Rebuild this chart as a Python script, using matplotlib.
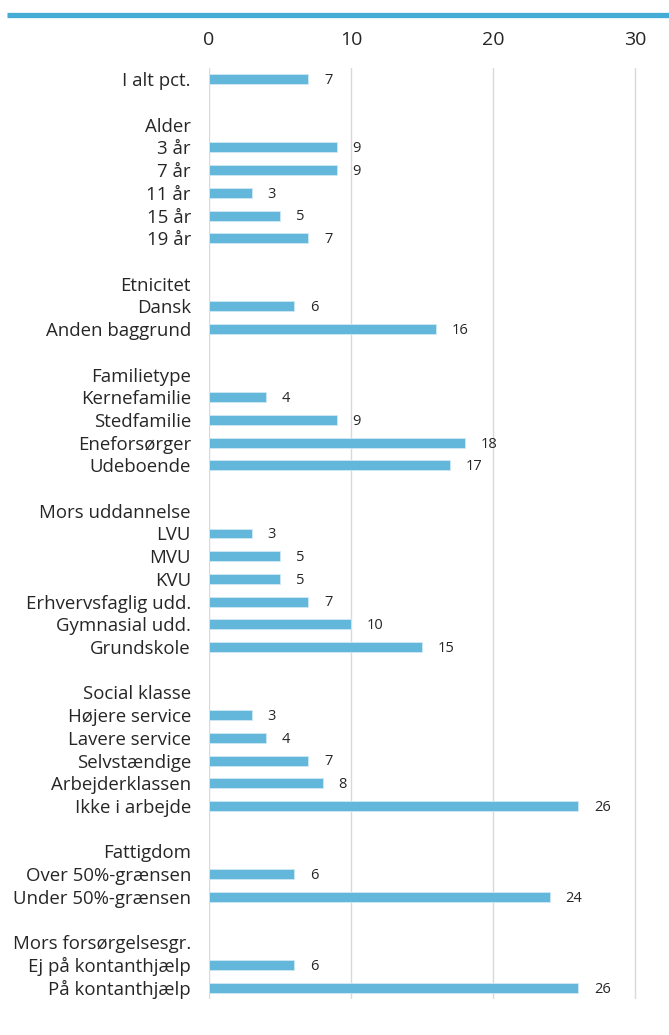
import numpy as np
import matplotlib
matplotlib.use("Agg")
import matplotlib.pyplot as plt
from matplotlib.lines import Line2D

plt.rcParams['font.family'] = ['Open Sans', 'DejaVu Sans']

# rækker: overskrifter og tomme linjer har ingen værdi (None)
labels = ["I alt pct.", "",
          "Alder", "3 år", "7 år", "11 år", "15 år", "19 år", "",
          "Etnicitet", "Dansk", "Anden baggrund", "",
          "Familietype", "Kernefamilie", "Stedfamilie", "Eneforsørger", "Udeboende", "",
          "Mors uddannelse", "LVU", "MVU", "KVU", "Erhvervsfaglig udd.", "Gymnasial udd.", "Grundskole", "",
          "Social klasse", "Højere service", "Lavere service", "Selvstændige", "Arbejderklassen", "Ikke i arbejde", "",
          "Fattigdom", "Over 50%-grænsen", "Under 50%-grænsen", "",
          "Mors forsørgelsesgr.", "Ej på kontanthjælp", "På kontanthjælp"]
values = [7, None,
          None, 9, 9, 3, 5, 7, None,
          None, 6, 16, None,
          None, 4, 9, 18, 17, None,
          None, 3, 5, 5, 7, 10, 15, None,
          None, 3, 4, 7, 8, 26, None,
          None, 6, 24, None,
          None, 6, 26]
ticks = [0, 10, 20, 30]

bar_color = '#62b7da'
text_color = '#262626'

fig = plt.figure(figsize=(6.69, 10.35), dpi=100)
ax = fig.add_axes([209 / 669, 1 - 999 / 1035, 460 / 669, (999 - 68) / 1035])

y = np.arange(len(labels))
vals = np.array([np.nan if v is None else v for v in values], dtype=float)
ax.barh(y, vals, height=0.44, color=bar_color, edgecolor='#cfe9f4', linewidth=0.6, zorder=3)

for yi, v in zip(y, vals):
    if not np.isnan(v):
        ax.text(v + 1.1, yi + 0.06, f"{int(v)}", va='center', ha='left',
                fontsize=10.5, color=text_color)

ax.set_ylim(len(labels) - 0.5, -0.5)
ax.set_xlim(0, 32.4)
ax.set_yticks(y)
ax.set_yticklabels(labels, fontsize=13.4, color=text_color)
ax.set_xticks(ticks)
ax.xaxis.tick_top()
ax.tick_params(axis='x', length=0, pad=14, labelsize=14, labelcolor=text_color)
ax.tick_params(axis='y', length=0, pad=13)
ax.grid(axis='x', color='#d9d9d9', linewidth=1.0, zorder=0)
for s in ax.spines.values():
    s.set_visible(False)

# blå streg øverst
fig.add_artist(Line2D([7 / 669, 1.0], [1 - 14.5 / 1035] * 2, color='#45acd6',
                      linewidth=3.8, solid_capstyle='butt', transform=fig.transFigure))

fig.savefig("out.png", dpi=100)
